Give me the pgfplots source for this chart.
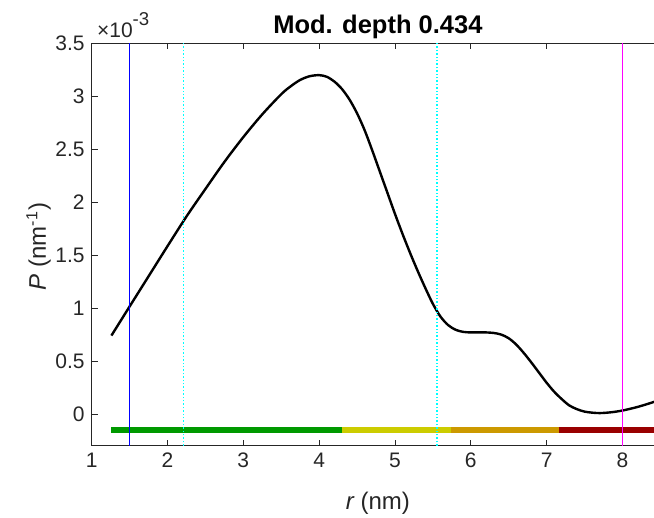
\documentclass[border=0pt]{standalone}
\usepackage{fontspec}
\setmainfont{Liberation Sans}
\usepackage{pgfplots}
\pgfplotsset{compat=1.18}
\definecolor{mgreen}{rgb}{0,0.6,0}
\definecolor{myellow}{rgb}{0.8,0.8,0}
\definecolor{morange}{rgb}{0.8,0.6,0}
\definecolor{mred}{rgb}{0.6,0,0}
\definecolor{axgray}{rgb}{0.15,0.15,0.15}
\definecolor{vblue}{rgb}{0,0,1}
\definecolor{vcyan}{rgb}{0,1,1}
\definecolor{vmag}{rgb}{1,0,1}
\begin{document}
\begin{tikzpicture}
\begin{axis}[
  scale only axis, width=286.2pt, height=201.15pt,
  at={(0,0)}, anchor=south west,
  xmin=1, xmax=8.55, ymin=-0.3, ymax=3.5,
  xtick={1,2,3,4,5,6,7,8},
  ytick={0,0.5,1,1.5,2,2.5,3,3.5},
  yticklabels={0,0.5,1,1.5,2,2.5,3,3.5},
  tick align=inside, major tick length=3pt,
  axis line style={draw=axgray, line width=0.4pt},
  tick style={draw=axgray, line width=0.4pt},
  /pgf/number format/assume math mode=true,
  ticklabel style={font=\fontsize{10.5}{12}\selectfont, text=axgray},
  title={\bfseries Mod. depth 0.434},
  every axis title/.style={at={(0.5,1)}, anchor=base, yshift=5pt, font=\fontsize{12.75}{14}\selectfont},
  xlabel={\itshape r\upshape\ (nm)},
  ylabel={\itshape P\upshape\ (nm\textsuperscript{-1})},
  every axis x label/.style={at={(0.5,0)}, anchor=base, yshift=-32.1pt, font=\fontsize{12}{14}\selectfont, text=axgray},
  every axis y label/.style={at={(-0.0799,0.495)}, anchor=base, rotate=90, font=\fontsize{12}{14}\selectfont, text=axgray},
]
% colored bar
\addplot[mgreen, line width=3pt, line cap=butt] coordinates {(1.26,-0.15) (4.30,-0.15)};
\addplot[myellow, line width=3pt, line cap=butt] coordinates {(4.30,-0.15) (5.74,-0.15)};
\addplot[morange, line width=3pt, line cap=butt] coordinates {(5.74,-0.15) (7.16,-0.15)};
\addplot[mred, line width=3pt, line cap=butt] coordinates {(7.16,-0.15) (8.60,-0.15)};
% distribution
\addplot[black, line width=1.2pt, smooth, tension=0.5, line join=round] coordinates {
(1.26,0.74) (1.5,1.015) (1.75,1.30) (2.0,1.585) (2.25,1.865) (2.5,2.125)
(2.75,2.38) (3.0,2.615) (3.25,2.83) (3.5,3.02) (3.625,3.095) (3.75,3.155)
(3.875,3.19) (4.0,3.20) (4.1,3.185) (4.2,3.14) (4.3,3.07) (4.4,2.97)
(4.5,2.84) (4.6,2.68) (4.7,2.49) (4.8,2.29) (4.9,2.09) (5.0,1.89)
(5.1,1.70) (5.2,1.52) (5.3,1.35) (5.4,1.19) (5.5,1.04) (5.6,0.92)
(5.7,0.84) (5.8,0.795) (5.9,0.775) (6.0,0.77) (6.1,0.77) (6.2,0.77)
(6.3,0.765) (6.4,0.75) (6.5,0.715) (6.6,0.655) (6.7,0.575) (6.8,0.485)
(6.9,0.39) (7.0,0.295) (7.1,0.21) (7.2,0.14) (7.3,0.08) (7.4,0.045)
(7.5,0.022) (7.6,0.012) (7.7,0.008) (7.8,0.012) (7.9,0.02) (8.0,0.032)
(8.1,0.048) (8.2,0.066) (8.3,0.087) (8.4,0.11) (8.5,0.135) (8.6,0.16)
};
% vertical markers
\addplot[vblue, line width=0.8pt] coordinates {(1.5,-0.3) (1.5,3.5)};
\addplot[vcyan, line width=0.7pt, dash pattern=on 0.7pt off 1pt] coordinates {(2.21,-0.3) (2.21,3.5)};
\addplot[vcyan, line width=0.7pt, dash pattern=on 0.7pt off 1pt] coordinates {(5.555,-0.3) (5.555,3.5)};
\addplot[vmag, line width=0.7pt] coordinates {(8.0,-0.3) (8.0,3.5)};
\end{axis}
\node[anchor=base west, inner sep=0pt, font=\fontsize{10.5}{12}\selectfont, text=axgray]
  at ([xshift=2.5pt, yshift=3pt]current axis.north west)
  {×10\raisebox{6.15pt}{\fontsize{9.3}{10}\selectfont -3}};
\pgfresetboundingbox
\path (-45.85pt,-36.1pt) rectangle (281.15pt,222.85pt);
\end{tikzpicture}
\end{document}
